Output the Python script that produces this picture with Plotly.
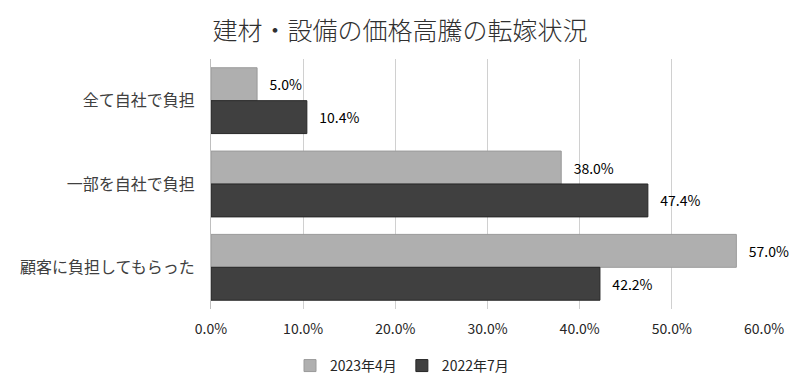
import plotly.graph_objects as go

categories = ["全て自社で負担", "一部を自社で負担", "顧客に負担してもらった"]
series_names = ["2023年4月", "2022年7月"]
values_2023_04 = [5.0, 38.0, 57.0]
values_2022_07 = [10.4, 47.4, 42.2]
tick_values = [0, 10, 20, 30, 40, 50, 60]
tick_labels = ["0.0%", "10.0%", "20.0%", "30.0%", "40.0%", "50.0%", "60.0%"]

FONT = "Noto Sans CJK JP"

fig = go.Figure()
fig.add_trace(go.Bar(
    y=categories, x=values_2023_04, name=series_names[0], orientation="h",
    marker=dict(color="#afafaf", line=dict(color="#9a9a9a", width=1)),
    text=["   " + f"{v:.1f}%" for v in values_2023_04], textposition="outside",
    textfont=dict(size=14, color="#000000", family=FONT), cliponaxis=False,
))
fig.add_trace(go.Bar(
    y=categories, x=values_2022_07, name=series_names[1], orientation="h",
    marker=dict(color="#404040", line=dict(color="#262626", width=1)),
    text=["   " + f"{v:.1f}%" for v in values_2022_07], textposition="outside",
    textfont=dict(size=14, color="#000000", family=FONT), cliponaxis=False,
))

fig.update_layout(
    width=800, height=387,
    margin=dict(l=201, r=44, t=51, b=86),
    paper_bgcolor="white", plot_bgcolor="white",
    font=dict(family=FONT, color="#404040", size=14),
    title=dict(text="建材・設備の価格高騰の転嫁状況", x=0.49, xref="container", xanchor="center",
               y=0.94, yref="container", yanchor="middle",
               font=dict(size=25, color="#303030", family=FONT, weight=300)),
    barmode="group", bargap=0.21, bargroupgap=0,
    showlegend=True,
    legend=dict(orientation="h", x=0.4925, xref="container", xanchor="center",
                y=0.075, yref="container", yanchor="middle",
                font=dict(size=14, color="#262626", family=FONT),
                itemwidth=30, traceorder="normal"),
    xaxis=dict(range=[0, 60], tickvals=tick_values, ticktext=tick_labels,
               showgrid=True, gridcolor="#d0d0d0", gridwidth=1, zeroline=False,
               showline=False, ticks="", tickfont=dict(size=14, color="#262626"),
               ticklabelstandoff=10),
    yaxis=dict(autorange="reversed", showline=True, linecolor="#bfbfbf", linewidth=1,
               ticks="", tickfont=dict(size=16, color="#404040"), ticklabelstandoff=12,
               showgrid=False),
)

fig.write_html("out.html")
